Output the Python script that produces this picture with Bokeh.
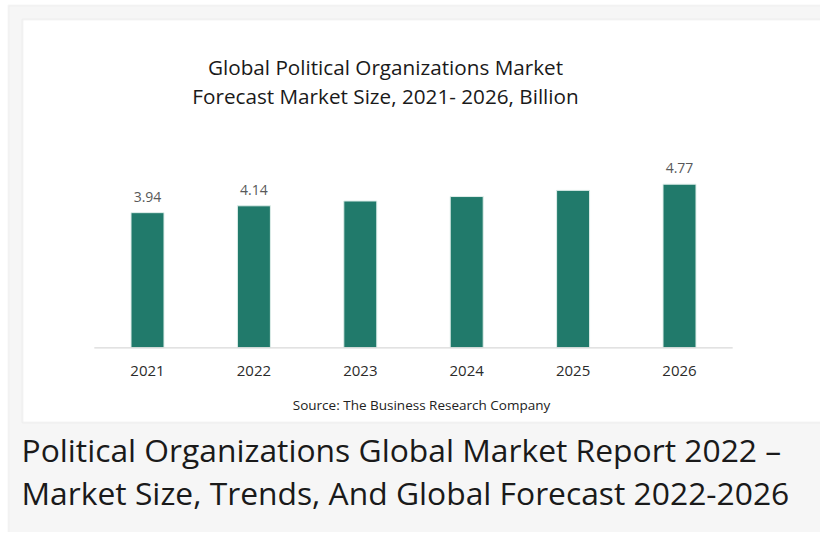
from bokeh.plotting import figure
from bokeh.models import Range1d, Label, ColumnDataSource, BoxAnnotation
from bokeh.core.properties import value
from bokeh.embed import file_html
from bokeh.resources import INLINE

# ---- data ----
years = ["2021", "2022", "2023", "2024", "2025", "2026"]
sizes = [3.94, 4.14, 4.28, 4.41, 4.59, 4.77]
show_label = [True, True, False, False, False, True]
title_lines = ["Global Political Organizations Market",
               "Forecast Market Size, 2021- 2026, Billion"]
source_text = "Source: The Business Research Company"
caption_lines = ["Political Organizations Global Market Report 2022 \u2013",
                 "Market Size, Trends, And Global Forecast 2022-2026"]

# ---- layout (pixel -> data helpers for placement of decoration/text) ----
W, H = 820, 532
X0, XS = 147.0, 106.4      # px of first category centre, px per category
Y0, YS = 347.3, 34.3       # px of value 0, px per unit


def X(px):
    return (px - X0) / XS


def Y(py):
    return (Y0 - py) / YS


idx = list(range(len(years)))
labels = [f"{v:.2f}" if s else "" for v, s in zip(sizes, show_label)]
src = ColumnDataSource(dict(x=idx, top=sizes, lab=labels,
                            ly=[v + 0.47 for v in sizes], yr=years,
                            ty=[Y(370.0)] * len(years)))

p = figure(frame_width=W, frame_height=H, min_border=0,
           x_range=Range1d(X(0), X(W)), y_range=Range1d(Y(H), Y(0)),
           output_backend="svg", toolbar_location=None)
p.axis.visible = False
p.grid.visible = False
p.background_fill_color = "white"
p.border_fill_color = "white"
p.outline_line_color = None

# outer grey panel and white chart card
p.add_layout(BoxAnnotation(left=X(8), right=X(833), top=Y(5), bottom=Y(H + 20),
                           fill_color="#f6f6f6", fill_alpha=1,
                           line_color="#e2e2e2", line_width=2, level="underlay"))
p.add_layout(BoxAnnotation(left=X(22), right=X(821), top=Y(19), bottom=Y(422),
                           fill_color="white", fill_alpha=1,
                           line_color="#d9d9d9", line_width=2, level="underlay"))

p.vbar(x="x", top="top", bottom=0, width=0.31, source=src,
       fill_color="#217a6b", line_color="#dfeeea", line_width=1)

# baseline (x axis line)
p.segment(x0=[-0.5], x1=[len(years) - 0.5], y0=[0], y1=[0],
          line_color="#d9d9d9", line_width=1.2)

font = value("Open Sans")
p.text(x="x", y="ly", text="lab", source=src, text_font=font,
       text_font_size="14px", text_color="#595959",
       text_align="center", text_baseline="middle")
p.text(x="x", y="ty", text="yr", source=src, text_font=font,
       text_font_size="15px", text_color="#2b2b2b",
       text_align="center", text_baseline="middle")

for t, py in zip(title_lines, [66.5, 95.0]):
    p.add_layout(Label(x=X(385), y=Y(py), text=t, text_font="Open Sans",
                       text_font_size="20.7px", text_color="#1a1a1a",
                       text_align="center", text_baseline="middle"))

p.add_layout(Label(x=X(421), y=Y(404.5), text=source_text,
                   text_font="Open Sans",
                   text_font_size="13.5px", text_color="#222222",
                   text_align="center", text_baseline="middle"))

for t, py in zip(caption_lines, [449.0, 491.5]):
    p.add_layout(Label(x=X(21), y=Y(py), text=t,
                       text_font="Open Sans",
                       text_font_size="31.8px", text_color="#1a1a1a",
                       text_align="left", text_baseline="middle"))

open("out.html", "w").write(file_html(p, INLINE))
